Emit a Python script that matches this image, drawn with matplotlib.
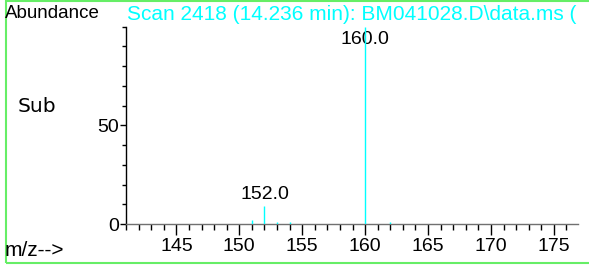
import matplotlib
matplotlib.use("Agg")
import matplotlib.pyplot as plt
from matplotlib.patches import Rectangle
from matplotlib.ticker import MultipleLocator, FixedLocator

# spectrum peaks (m/z, relative abundance)
mz = [151.0, 152.0, 153.0, 154.0, 160.0, 162.0]
abundance = [2.0, 9.0, 0.8, 0.8, 100.0, 0.8]
labelled = [152.0, 160.0]

title = "Scan 2418 (14.236 min): BM041028.D\\data.ms ("
x_range = (141.0, 176.9)
y_range = (0, 100)
y_ticks = [0, 50]

plt.rcParams['font.family'] = ['Liberation Sans', 'DejaVu Sans']

fig = plt.figure(figsize=(5.89, 2.67), dpi=100)
ax = fig.add_axes([0.214, 0.161, 0.767, 0.739])

cyan = '#00ffff'
ax.vlines(mz, 0, abundance, color=cyan, linewidth=1.0, zorder=3)
for m, a in zip(mz, abundance):
    if m not in labelled:
        continue
    if a > 90:
        # tall peak: label sits just under the top, the line runs through it
        ax.annotate(f"{m:.1f}", (m, a), xytext=(0, -3), textcoords='offset points',
                    ha='center', va='top', fontsize=14, color='black', zorder=2)
    else:
        ax.annotate(f"{m:.1f}", (m, a), xytext=(0, 2), textcoords='offset points',
                    ha='center', va='bottom', fontsize=14, color='black', zorder=2)

ax.set_xlim(*x_range)
ax.set_ylim(*y_range)
ax.xaxis.set_major_locator(MultipleLocator(5))
ax.xaxis.set_minor_locator(MultipleLocator(1))
ax.yaxis.set_major_locator(FixedLocator(y_ticks))
ax.yaxis.set_minor_locator(MultipleLocator(10))

for s in ['top', 'right']:
    ax.spines[s].set_visible(False)
ax.spines['left'].set_color('black')
ax.spines['bottom'].set_color('#707070')
ax.spines['left'].set_linewidth(1.0)
ax.spines['bottom'].set_linewidth(1.0)

ax.tick_params(axis='x', which='major', direction='out', length=8, width=1, color='black',
               labelsize=14, pad=2)
ax.tick_params(axis='x', which='minor', direction='out', length=4, width=1, color='black')
ax.tick_params(axis='y', which='major', direction='out', length=4, width=1, labelsize=14, pad=1)
ax.tick_params(axis='y', which='minor', direction='out', length=3, width=1)

fig.text(5 / 589, 1 - 14 / 267, "Abundance", fontsize=13.5, va='center', ha='left')
fig.text(127 / 589, 1 - 14 / 267, title, fontsize=15, va='center', ha='left', color=cyan)
fig.text(18 / 589, 1 - 107 / 267, "Sub", fontsize=14.5, va='center', ha='left',
         family='DejaVu Sans')
fig.text(5 / 589, 1 - 251 / 267, "m/z-->", fontsize=15, va='center', ha='left')

fig.patches.append(Rectangle((6 / 589, 4 / 267), 1.2, 262 / 267, transform=fig.transFigure,
                             fill=False, edgecolor='#66ee66', linewidth=1.5))

fig.savefig("out.png", dpi=100)
